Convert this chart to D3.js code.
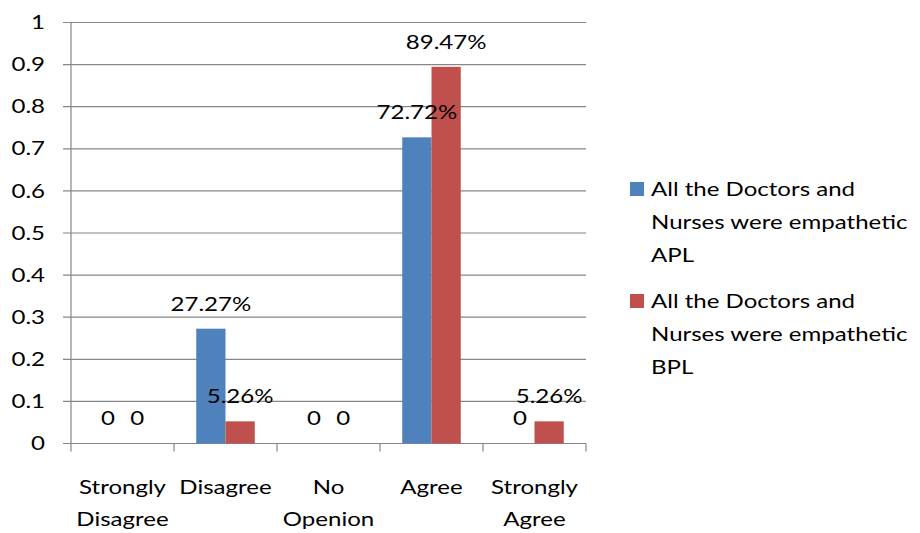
<!DOCTYPE html>
<html>
<head>
<meta charset="utf-8">
<script src="https://cdn.jsdelivr.net/npm/d3@7"></script>
<style>
  body { margin: 0; background: #fff; }
  text { font-family: Lato, "Open Sans", sans-serif; fill: #000; font-size: 18.5px; }
</style>
</head>
<body>
<script>
  var categories = [["Strongly", "Disagree"], ["Disagree"], ["No", "Openion"], ["Agree"], ["Strongly", "Agree"]];
  var seriesNames = [
    ["All the Doctors and", "Nurses were empathetic", "APL"],
    ["All the Doctors and", "Nurses were empathetic", "BPL"]
  ];
  var apl = [0, 0.2727, 0, 0.7272, 0];
  var bpl = [0, 0.0526, 0, 0.8947, 0.0526];
  var colors = ["#4F81BD", "#C0504D"];
  var yTicks = [0, 0.1, 0.2, 0.3, 0.4, 0.5, 0.6, 0.7, 0.8, 0.9, 1];

  var width = 920, height = 533;
  var plotLeft = 71, plotRight = 586, plotTop = 22.5, plotBottom = 443.5;
  var sx = 1.3; // the source text is a bit wide, stretch horizontally

  var svg = d3.select("body").append("svg")
    .attr("width", width)
    .attr("height", height);

  function place(x) { return "translate(" + x + ",0) scale(" + sx + ",1)"; }

  var x0 = d3.scaleBand().domain(d3.range(categories.length)).range([plotLeft, plotRight]);
  var x1 = d3.scaleBand().domain([0, 1]).range([0, x0.bandwidth()]).paddingOuter(0.76);
  var y = d3.scaleLinear().domain([0, 1]).range([plotBottom, plotTop]);

  // gridlines + y ticks
  svg.append("g").selectAll("line").data(yTicks).enter().append("line")
    .attr("x1", plotLeft - 8).attr("x2", plotRight)
    .attr("y1", function(d) { return y(d); })
    .attr("y2", function(d) { return y(d); })
    .attr("stroke", "#868686").attr("stroke-width", 1.2);

  svg.append("g").selectAll("text").data(yTicks).enter().append("text")
    .attr("transform", place(45))
    .attr("y", function(d) { return y(d); })
    .attr("dy", "0.36em")
    .attr("text-anchor", "end")
    .text(function(d) { return String(+d.toFixed(1)); });

  // y axis line
  svg.append("line")
    .attr("x1", plotLeft).attr("x2", plotLeft)
    .attr("y1", plotTop).attr("y2", plotBottom)
    .attr("stroke", "#868686").attr("stroke-width", 1.2);

  // category ticks
  var bounds = d3.range(categories.length + 1).map(function(i) {
    return i < categories.length ? x0(i) : x0(i - 1) + x0.bandwidth();
  });
  svg.append("g").selectAll("line").data(bounds).enter().append("line")
    .attr("x1", function(d) { return d; }).attr("x2", function(d) { return d; })
    .attr("y1", plotBottom).attr("y2", plotBottom + 8)
    .attr("stroke", "#868686").attr("stroke-width", 1.2);

  // bars first, labels after so they sit on top
  var seriesData = [apl, bpl];
  seriesData.forEach(function(vals, s) {
    svg.append("g").selectAll("rect").data(vals).enter().append("rect")
      .attr("x", function(d, i) { return x0(i) + x1(s); })
      .attr("y", function(d) { return y(d); })
      .attr("width", x1.bandwidth())
      .attr("height", function(d) { return plotBottom - y(d); })
      .attr("fill", colors[s]);
  });
  seriesData.forEach(function(vals, s) {
    svg.append("g").selectAll("text").data(vals).enter().append("text")
      .attr("transform", function(d, i) { return place(x0(i) + x1(s) + x1.bandwidth() / 2); })
      .attr("y", function(d) { return y(d) - 18; })
      .attr("text-anchor", "middle")
      .text(function(d) { return d === 0 ? "0" : (d * 100).toFixed(2) + "%"; });
  });

  // x labels
  var xl = svg.append("g").selectAll("text").data(categories).enter().append("text")
    .attr("transform", function(d, i) { return place(x0(i) + x0.bandwidth() / 2); })
    .attr("text-anchor", "middle");
  xl.selectAll("tspan").data(function(d) { return d; })
    .enter().append("tspan")
    .attr("x", 0)
    .attr("y", function(d, j) { return 494 + j * 32; })
    .text(function(d) { return d; });

  // legend
  seriesNames.forEach(function(lines, s) {
    var ly = 182 + s * 112;
    svg.append("rect").attr("x", 630).attr("y", ly).attr("width", 14).attr("height", 14)
      .attr("fill", colors[s]);
    var t = svg.append("text").attr("transform", place(651));
    t.selectAll("tspan").data(lines).enter().append("tspan")
      .attr("x", 0)
      .attr("y", function(d, j) { return ly + 14 + j * 33; })
      .text(function(d) { return d; });
  });
</script>
</body>
</html>
